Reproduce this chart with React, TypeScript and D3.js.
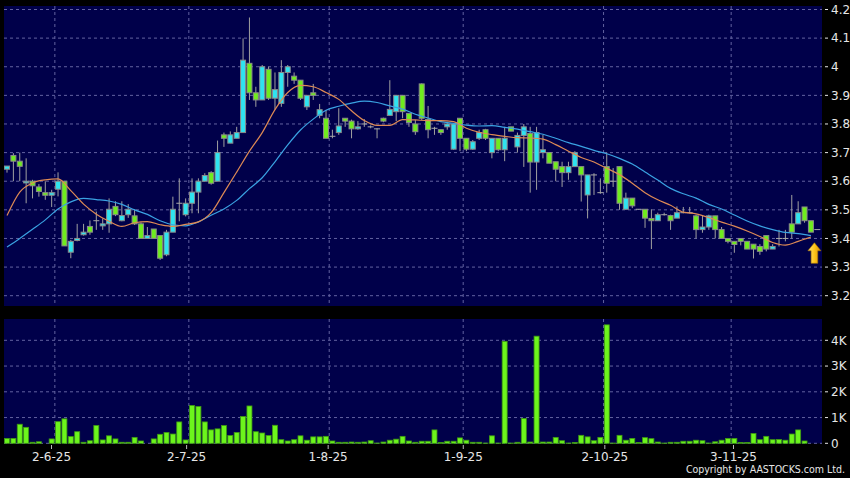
import React from "react";
import * as d3 from "d3";

// ---- data ----
const opens = [3.642,3.69,3.67,3.594,3.6,3.58,3.56,3.551,3.572,3.6,3.352,3.393,3.413,3.442,3.462,3.444,3.451,3.512,3.462,3.483,3.479,3.451,3.4,3.433,3.41,3.343,3.422,3.523,3.483,3.523,3.562,3.6,3.63,3.6,3.762,3.733,3.75,3.77,4.012,3.909,3.884,3.991,3.89,3.872,3.98,3.967,3.953,3.86,3.909,3.83,3.82,3.757,3.77,3.82,3.81,3.783,3.8,3.79,3.783,3.82,3.83,3.843,3.9,3.837,3.8,3.94,3.816,3.785,3.78,3.79,3.712,3.82,3.75,3.712,3.75,3.78,3.7,3.75,3.71,3.79,3.72,3.76,3.767,3.667,3.7,3.7,3.668,3.651,3.63,3.651,3.651,3.552,3.622,3.56,3.651,3.6,3.651,3.502,3.541,3.502,3.502,3.47,3.462,3.483,3.48,3.471,3.49,3.49,3.479,3.431,3.44,3.479,3.431,3.4,3.39,3.4,3.39,3.38,3.372,3.41,3.363,3.4,3.4,3.451,3.451,3.51,3.462,3.431];
const highs = [3.653,3.698,3.7,3.68,3.605,3.59,3.6,3.57,3.631,3.6,3.395,3.451,3.451,3.463,3.494,3.47,3.54,3.53,3.53,3.52,3.502,3.456,3.44,3.433,3.41,3.43,3.546,3.61,3.54,3.61,3.61,3.628,3.635,3.742,3.77,3.774,3.79,4.099,4.172,3.93,4.006,4.0,3.98,4.023,4.006,3.98,3.953,3.9,3.94,3.87,3.849,3.78,3.855,3.82,3.815,3.81,3.817,3.795,3.785,3.822,3.953,3.9,3.9,3.837,3.814,3.942,3.863,3.79,3.78,3.808,3.8,3.82,3.75,3.744,3.78,3.783,3.75,3.75,3.79,3.79,3.77,3.8,3.79,3.79,3.762,3.7,3.668,3.668,3.668,3.705,3.651,3.622,3.628,3.61,3.7,3.646,3.651,3.56,3.541,3.502,3.502,3.502,3.49,3.49,3.483,3.512,3.51,3.51,3.483,3.479,3.483,3.479,3.44,3.4,3.39,3.4,3.39,3.38,3.38,3.41,3.38,3.43,3.43,3.552,3.53,3.51,3.462,3.431];
const lows = [3.63,3.6,3.6,3.523,3.54,3.546,3.535,3.51,3.547,3.374,3.331,3.39,3.41,3.413,3.43,3.43,3.42,3.478,3.46,3.472,3.447,3.4,3.4,3.4,3.325,3.338,3.422,3.46,3.477,3.488,3.488,3.6,3.588,3.6,3.72,3.733,3.75,3.77,3.884,3.86,3.884,3.884,3.85,3.86,3.93,3.94,3.884,3.849,3.884,3.82,3.75,3.75,3.762,3.79,3.75,3.78,3.79,3.785,3.75,3.806,3.83,3.81,3.82,3.79,3.762,3.814,3.75,3.762,3.762,3.78,3.71,3.705,3.705,3.71,3.744,3.744,3.68,3.705,3.67,3.775,3.7,3.65,3.56,3.57,3.68,3.663,3.6,3.58,3.605,3.651,3.529,3.47,3.552,3.556,3.56,3.58,3.5,3.5,3.506,3.5,3.437,3.363,3.462,3.48,3.43,3.471,3.488,3.488,3.4,3.42,3.43,3.4,3.4,3.383,3.35,3.376,3.363,3.33,3.343,3.355,3.363,3.372,3.39,3.4,3.451,3.455,3.422,3.431];
const closes = [3.653,3.67,3.652,3.6,3.584,3.564,3.551,3.56,3.6,3.374,3.39,3.4,3.422,3.422,3.462,3.451,3.502,3.483,3.48,3.502,3.451,3.4,3.41,3.4,3.331,3.422,3.502,3.523,3.523,3.562,3.6,3.62,3.593,3.7,3.75,3.762,3.77,4.023,3.909,3.884,4.0,3.89,3.92,3.98,4.0,3.953,3.89,3.9,3.9,3.85,3.75,3.757,3.793,3.81,3.783,3.79,3.8,3.79,3.783,3.81,3.851,3.9,3.843,3.805,3.773,3.82,3.78,3.785,3.77,3.8,3.8,3.75,3.712,3.738,3.77,3.75,3.75,3.71,3.75,3.775,3.76,3.79,3.667,3.77,3.71,3.663,3.642,3.63,3.651,3.7,3.622,3.622,3.622,3.56,3.593,3.6,3.523,3.541,3.514,3.502,3.471,3.462,3.483,3.483,3.462,3.49,3.49,3.49,3.431,3.44,3.479,3.431,3.4,3.39,3.379,3.39,3.363,3.363,3.355,3.363,3.372,3.4,3.4,3.422,3.49,3.462,3.422,3.431];
// volume in thousands
const volumes = [0.19,0.19,0.74,0.62,0.04,0.06,0,0.17,0.84,0.95,0.26,0.45,0.04,0.1,0.69,0.13,0.29,0.17,0.04,0.04,0.23,0.09,0,0.17,0.35,0.42,0.36,0.83,0.13,1.47,1.43,0.83,0.52,0.56,0.69,0.3,0.42,1.04,1.45,0.45,0.4,0.3,0.7,0.14,0.09,0.14,0.29,0.12,0.25,0.25,0.27,0.09,0.04,0.04,0.05,0.04,0.05,0.1,0.01,0.05,0.12,0.16,0.27,0.09,0.04,0.08,0.08,0.52,0.03,0.08,0.08,0.21,0.12,0.04,0.04,0.01,0.29,0.01,3.96,0.01,0.04,0.96,0.05,4.16,0.05,0.05,0.23,0.1,0.01,0.03,0.31,0.25,0.1,0.23,4.6,0.01,0.31,0.12,0.19,0.03,0.22,0.18,0.05,0.01,0.04,0.04,0.08,0.08,0.12,0.1,0.01,0.06,0.12,0.19,0.19,0.03,0.03,0.38,0.14,0.27,0.14,0.15,0.12,0.36,0.52,0.09,0,0];
// moving averages, read at every second session (index 0, 2, 4, ...)
const maShort = [3.48,3.562,3.594,3.605,3.608,3.567,3.52,3.485,3.46,3.442,3.455,3.459,3.448,3.442,3.449,3.458,3.49,3.56,3.632,3.705,3.77,3.85,3.91,3.935,3.93,3.91,3.886,3.846,3.812,3.795,3.795,3.815,3.814,3.812,3.812,3.808,3.785,3.771,3.763,3.757,3.752,3.751,3.747,3.728,3.705,3.683,3.667,3.645,3.623,3.593,3.56,3.535,3.516,3.492,3.486,3.473,3.457,3.443,3.426,3.407,3.386,3.377,3.39,3.405];
const maLong = [3.37,3.4,3.432,3.465,3.503,3.528,3.54,3.536,3.531,3.519,3.5,3.484,3.462,3.448,3.444,3.458,3.481,3.503,3.533,3.574,3.612,3.668,3.727,3.779,3.817,3.848,3.862,3.873,3.88,3.875,3.863,3.852,3.834,3.821,3.808,3.802,3.796,3.793,3.794,3.788,3.782,3.773,3.764,3.75,3.735,3.722,3.708,3.696,3.68,3.66,3.632,3.604,3.575,3.556,3.541,3.519,3.503,3.482,3.461,3.444,3.431,3.421,3.417,3.41];
const dateLabels = ["2-6-25", "2-7-25", "1-8-25", "1-9-25", "2-10-25", "3-11-25"];
const dateIndex = [7, 28, 50, 71, 93, 113];
const priceTicks = [3.2, 3.3, 3.4, 3.5, 3.6, 3.7, 3.8, 3.9, 4.0, 4.1, 4.2];
const volTicks = [0, 1, 2, 3, 4];

const UP = "#2fe3f0";
const DOWN = "#6fec1e";
const GRID = "#6262a0";
const BG = "#00004a";
const TXT = "#e6e6e6";
const FONT = "'DejaVu Sans', sans-serif";

export default function App() {
  const n = closes.length;
  const x = d3.scaleLinear().domain([0, n - 1]).range([7, 817.3]);
  const yP = d3.scaleLinear().domain([3.2, 4.2]).range([295.7, 9.5]);
  const yV = d3.scaleLinear().domain([0, 4]).range([443.3, 340.3]);
  const labelX = d3.scaleLinear().domain([dateIndex[0], dateIndex[dateIndex.length - 1]]).range([51.5, 733.5]);

  const left = 4, right = 822;
  const pTop = 6, pBot = 306, vTop = 319, vBot = 443.5;

  const maLine = d3
    .line<number>()
    .x((_, i) => x(i * 2))
    .y((v) => yP(v))
    .curve(d3.curveMonotoneX);

  const bw = 5;
  const lastX = x(n - 2) + 3.5;
  const tipY = yP(3.385);

  return (
    <svg
      width={850}
      height={478}
      style={{ position: "absolute", left: 0, top: 0, display: "block", background: "#000" }}
    >
      <defs>
        <clipPath id="pclip">
          <rect x={left} y={pTop} width={right - left} height={pBot - pTop} />
        </clipPath>
        <linearGradient id="arrowG" x1="0" y1="0" x2="1" y2="0">
          <stop offset="0" stopColor="#ffe27a" />
          <stop offset="0.5" stopColor="#ffc61a" />
          <stop offset="1" stopColor="#d98e00" />
        </linearGradient>
      </defs>
      <rect x={0} y={0} width={850} height={478} fill="#000" />
      <rect x={left} y={pTop} width={right - left} height={pBot - pTop} fill={BG} />
      <rect x={left} y={vTop} width={right - left} height={vBot - vTop} fill={BG} />

      {/* grid */}
      {priceTicks.map((t) => (
        <line key={"pg" + t} x1={left} x2={right} y1={yP(t)} y2={yP(t)} stroke={GRID} strokeDasharray="3,3" />
      ))}
      {volTicks.map((t) => (
        <line key={"vg" + t} x1={left} x2={right} y1={yV(t)} y2={yV(t)} stroke={GRID} strokeDasharray="3,3" />
      ))}
      {dateIndex.map((di) => (
        <g key={"vx" + di}>
          <line x1={x(di + 0.5)} x2={x(di + 0.5)} y1={pTop} y2={pBot} stroke={GRID} strokeDasharray="3,3" />
          <line x1={x(di + 0.5)} x2={x(di + 0.5)} y1={vTop} y2={vBot} stroke={GRID} strokeDasharray="3,3" />
        </g>
      ))}

      {/* candles */}
      <g clipPath="url(#pclip)">
        {closes.map((c, i) => {
          const o = opens[i];
          const cx = x(i);
          const color = c > o ? UP : c < o ? DOWN : null;
          const top = yP(Math.max(o, c));
          const bot = yP(Math.min(o, c));
          return (
            <g key={"c" + i}>
              <line x1={cx} x2={cx} y1={yP(highs[i])} y2={yP(lows[i])} stroke="#a0a0a0" strokeWidth={1} />
              {color ? (
                <rect x={cx - bw / 2} y={top} width={bw} height={Math.max(bot - top, 1)} fill={color} stroke="#8a8a8a" strokeWidth={1} />
              ) : (
                <line x1={cx - 3} x2={cx + 3} y1={top} y2={top} stroke="#a8a8a8" strokeWidth={1} />
              )}
            </g>
          );
        })}
        <path d={maLine(maLong) || ""} fill="none" stroke="#3aa2e2" strokeWidth={1.2} />
        <path d={maLine(maShort) || ""} fill="none" stroke="#de8a55" strokeWidth={1.2} />
      </g>

      {/* arrow */}
      <path
        d={`M${lastX},${tipY} L${lastX + 6.5},${tipY + 8} L${lastX + 3.3},${tipY + 8} L${lastX + 3.3},${tipY + 20.5} L${lastX - 3.3},${tipY + 20.5} L${lastX - 3.3},${tipY + 8} L${lastX - 6.5},${tipY + 8} Z`}
        fill="url(#arrowG)"
        stroke="#b07800"
        strokeWidth={0.6}
      />

      {/* volume */}
      {volumes.map((v, i) =>
        v > 0 ? (
          <rect
            key={"v" + i}
            x={x(i) - 2.5}
            y={yV(v)}
            width={5}
            height={yV(0) - yV(v)}
            fill="#6cf51c"
            stroke="#3f9a12"
            strokeWidth={0.8}
          />
        ) : null
      )}

      {/* price axis */}
      {priceTicks.map((t) => (
        <g key={"pt" + t}>
          <line x1={825} x2={828} y1={yP(t)} y2={yP(t)} stroke={TXT} />
          <text x={831} y={yP(t)} dy="0.35em" fill={TXT} fontSize={12} fontFamily={FONT}>
            {String(+t.toFixed(1))}
          </text>
        </g>
      ))}
      {volTicks.map((t) => (
        <g key={"vt" + t}>
          <line x1={825} x2={828} y1={yV(t)} y2={yV(t)} stroke={TXT} />
          <text x={831} y={yV(t)} dy="0.35em" fill={TXT} fontSize={12} fontFamily={FONT}>
            {t === 0 ? "0" : t + "K"}
          </text>
        </g>
      ))}

      {/* date axis */}
      {dateIndex.map((di, k) => (
        <g key={"d" + di}>
          <line x1={labelX(di)} x2={labelX(di)} y1={445} y2={449} stroke="#bbb" />
          <text x={labelX(di)} y={461} textAnchor="middle" fill={TXT} fontSize={12} fontFamily={FONT}>
            {dateLabels[k]}
          </text>
        </g>
      ))}

      <text
        x={845}
        y={473}
        textAnchor="end"
        fill={TXT}
        fontSize={10.5}
        fontFamily="'DejaVu Sans Condensed', 'DejaVu Sans', sans-serif"
      >
        Copyright by AASTOCKS.com Ltd.
      </text>
    </svg>
  );
}
